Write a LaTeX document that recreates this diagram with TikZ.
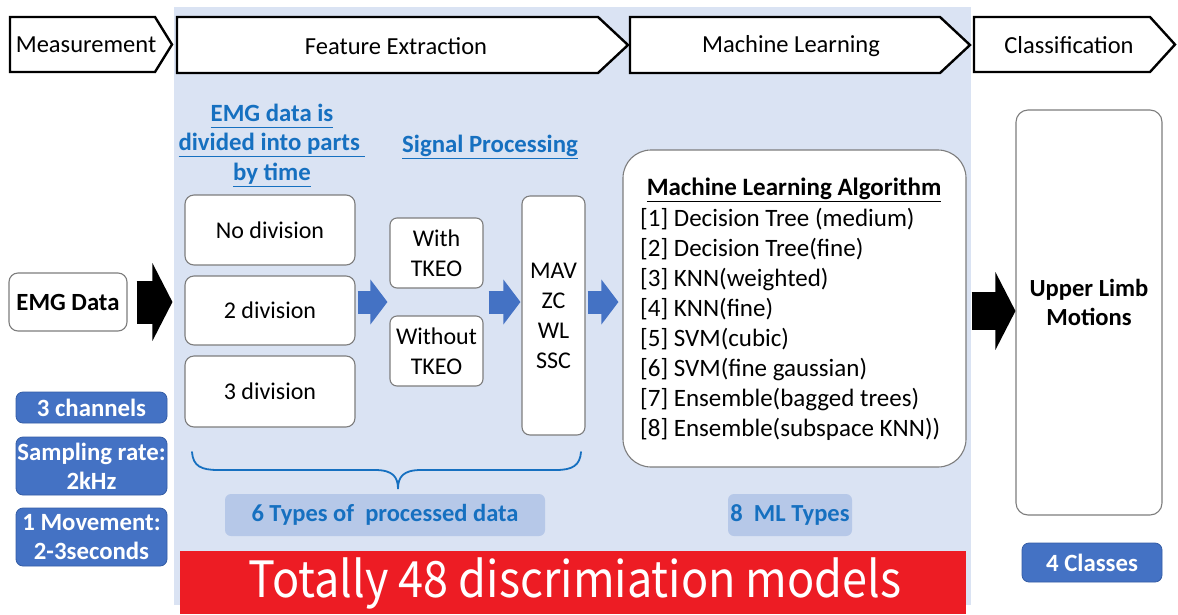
\documentclass[tikz,border=0pt]{standalone}
\usepackage{fontspec}
\setmainfont{Carlito}
\newfontfamily\bannerfont{Noto Sans CJK JP}[FakeStretch=0.9]
\usetikzlibrary{arrows.meta,calc}
\definecolor{panel}{RGB}{218,227,243}
\definecolor{accent}{RGB}{68,114,196}
\definecolor{accentdark}{RGB}{52,92,165}
\definecolor{tagfill}{RGB}{182,200,232}
\definecolor{linkblue}{RGB}{22,112,192}
\definecolor{banner}{RGB}{237,28,36}
\definecolor{rim}{RGB}{125,125,125}
\newcommand\fsz[2]{\fontsize{#1}{#2}\selectfont}
\newcommand\ulined[1]{\underline{#1\vphantom{gy}}}

\begin{document}
\begin{tikzpicture}[x=1pt,y=-1pt,
  stage/.style={draw=black,line width=2.4pt,fill=white,line join=miter},
  stagetext/.style={inner sep=0pt,font=\fsz{24.5}{28}},
  wbox/.style={draw=rim,line width=1.1pt,fill=white,rounded corners=9pt,
    inner sep=0pt,align=center,font=\fsz{24}{30}},
  bluebox/.style={draw=accentdark,line width=0.8pt,fill=accent,rounded corners=7pt,
    inner sep=0pt,align=center,text=white,font=\bfseries\fsz{24.8}{29}},
  tagbox/.style={fill=tagfill,rounded corners=6pt,inner sep=0pt,text=linkblue,
    font=\bfseries\fsz{24.5}{28}},
  heading/.style={inner sep=0pt,align=center,text=linkblue,font=\bfseries\fsz{24.8}{29.5}},
  flowarrow/.style={line width=23pt,draw=accent,-{Triangle[length=17pt,width=44pt]}},
  bigarrow/.style={draw=black,-{Triangle[length=20pt,width=77pt]}},
]
\useasboundingbox (0,0) rectangle (1178,614);
\fill[white] (0,0) rectangle (1178,614);

% shaded feature extraction / machine learning panel
\fill[panel] (174,7) rectangle (971,605);

% stage headers
\draw[stage] (10,17) -- (155,17) -- (172,44.5) -- (155,72) -- (10,72) -- cycle;
\node[stagetext] (hmeas) at (86,45) {Measurement};
\draw[stage] (630,17) -- (940,17) -- (970,45) -- (940,73) -- (630,73) -- cycle;
\node[stagetext] (hml) at (791,46) {Machine Learning};
\draw[stage] (177,17) -- (598,17) -- (628,45) -- (598,73) -- (177,73) -- cycle;
\node[stagetext] (hfe) at (396,46) {Feature Extraction};
\draw[stage] (974,17) -- (1150,17) -- (1175,44.5) -- (1150,72) -- (974,72) -- cycle;
\node[stagetext] (hcls) at (1069,45) {Classification};

% section headings
\node[heading] (hdiv) at (272,145) {\ulined{EMG data is}\\\ulined{divided into parts }\\\ulined{by time}};
\node[heading] (hsig) at (490,147) {\ulined{Signal Processing}};

% measurement column
\node[wbox,minimum width=118pt,minimum height=58pt,font=\bfseries\fsz{24.7}{30}] (emg) at (68,302) {EMG Data};
\node[bluebox,minimum width=151pt,minimum height=31pt] (chan) at (91.5,407.5) {3 channels};
\node[bluebox,minimum width=151pt,minimum height=58pt] (rate) at (91.5,466) {Sampling rate:\\2kHz};
\node[bluebox,minimum width=151pt,minimum height=58pt] (move) at (91.5,537) {1 Movement:\\2-3seconds};

% division options
\node[wbox,minimum width=170pt,minimum height=70pt] (div0) at (270,230) {No division};
\node[wbox,minimum width=170pt,minimum height=69pt] (div2) at (270,310.5) {2 division};
\node[wbox,minimum width=170pt,minimum height=71pt] (div3) at (270,391.5) {3 division};

% TKEO options
\node[wbox,minimum width=93pt,minimum height=70pt,rounded corners=7pt] (tkw) at (436.5,253) {With\\TKEO};
\node[wbox,minimum width=93pt,minimum height=70pt,rounded corners=7pt] (tkn) at (436.5,351) {Without\\TKEO};

% features
\node[wbox,minimum width=63pt,minimum height=239pt,rounded corners=8pt] (feat) at (553.5,315.5) {MAV\\ZC\\WL\\SSC};

% algorithms
\node[wbox,minimum width=343pt,minimum height=317pt,rounded corners=28pt] (mla) at (794.5,308.5) {};
\node[inner sep=0pt,font=\bfseries\fsz{25}{28}] (mlt) at (794,190) {\underline{Machine Learning Algorithm}};
\node[inner sep=0pt,anchor=north west,align=left,font=\fsz{25}{30}] (mli) at (640,208)
  {{[1]} Decision Tree (medium)\\
   {[2]} Decision Tree(fine)\\
   {[3]} KNN(weighted)\\
   {[4]} KNN(fine)\\
   {[5]} SVM(cubic)\\
   {[6]} SVM(fine gaussian)\\
   {[7]} Ensemble(bagged trees)\\
   {[8]} Ensemble(subspace KNN))};

% classification column
\node[wbox,minimum width=146pt,minimum height=405pt,rounded corners=12pt] (out) at (1089,312.5) {};
\node[inner sep=0pt,align=center,font=\bfseries\fsz{24.6}{29}] (outl) at (1089,302) {Upper Limb\\Motions};
\node[bluebox,minimum width=140pt,minimum height=39pt] (cls) at (1092,562.5) {4 Classes};

% counts
\node[tagbox,minimum width=320pt,minimum height=42pt] (typ6) at (385,515) {6 Types of\ \ processed data};
\node[tagbox,minimum width=124pt,minimum height=42pt] (typ8) at (790,515) {8\ \ ML Types};

% brace grouping the processed data variants
\draw[linkblue,line width=1.8pt,line cap=round]
  (192,452) .. controls (193,466) and (201,470) .. (218,470) -- (375,470)
  .. controls (393,470) and (398,477) .. (398,489)
  .. controls (398,477) and (403,470) .. (421,470) -- (556,470)
  .. controls (573,470) and (580,465) .. (581,452);

% flow arrows
\coordinate (lane) at (0,302);
\coordinate (lane2) at (0,311);
\draw[bigarrow,line width=43pt] ($(emg.east |- lane)+(9,0)$) -- ($(div2.west |- lane)+(-12,0)$);
\draw[flowarrow] ($(div2.east |- lane)+(2,0)$) -- ($(tkw.west |- lane)+(-2,0)$);
\draw[flowarrow] ($(tkw.east |- lane)+(5,0)$) -- ($(feat.west |- lane)+(-1,0)$);
\draw[flowarrow] ($(feat.east |- lane)+(2,0)$) -- ($(mla.west |- lane)+(-4,0)$);
\draw[bigarrow,line width=38pt] ($(mla.east |- lane2)+(5,0)$) -- ($(out.west |- lane2)+(0,0)$);

% total banner
\fill[banner] (180,551) rectangle (966,614);
\node[inner sep=0pt,text=white,font=\bannerfont\fsz{50}{56}] (total) at (575,583) {Totally 48 discrimiation models};
\end{tikzpicture}
\end{document}
